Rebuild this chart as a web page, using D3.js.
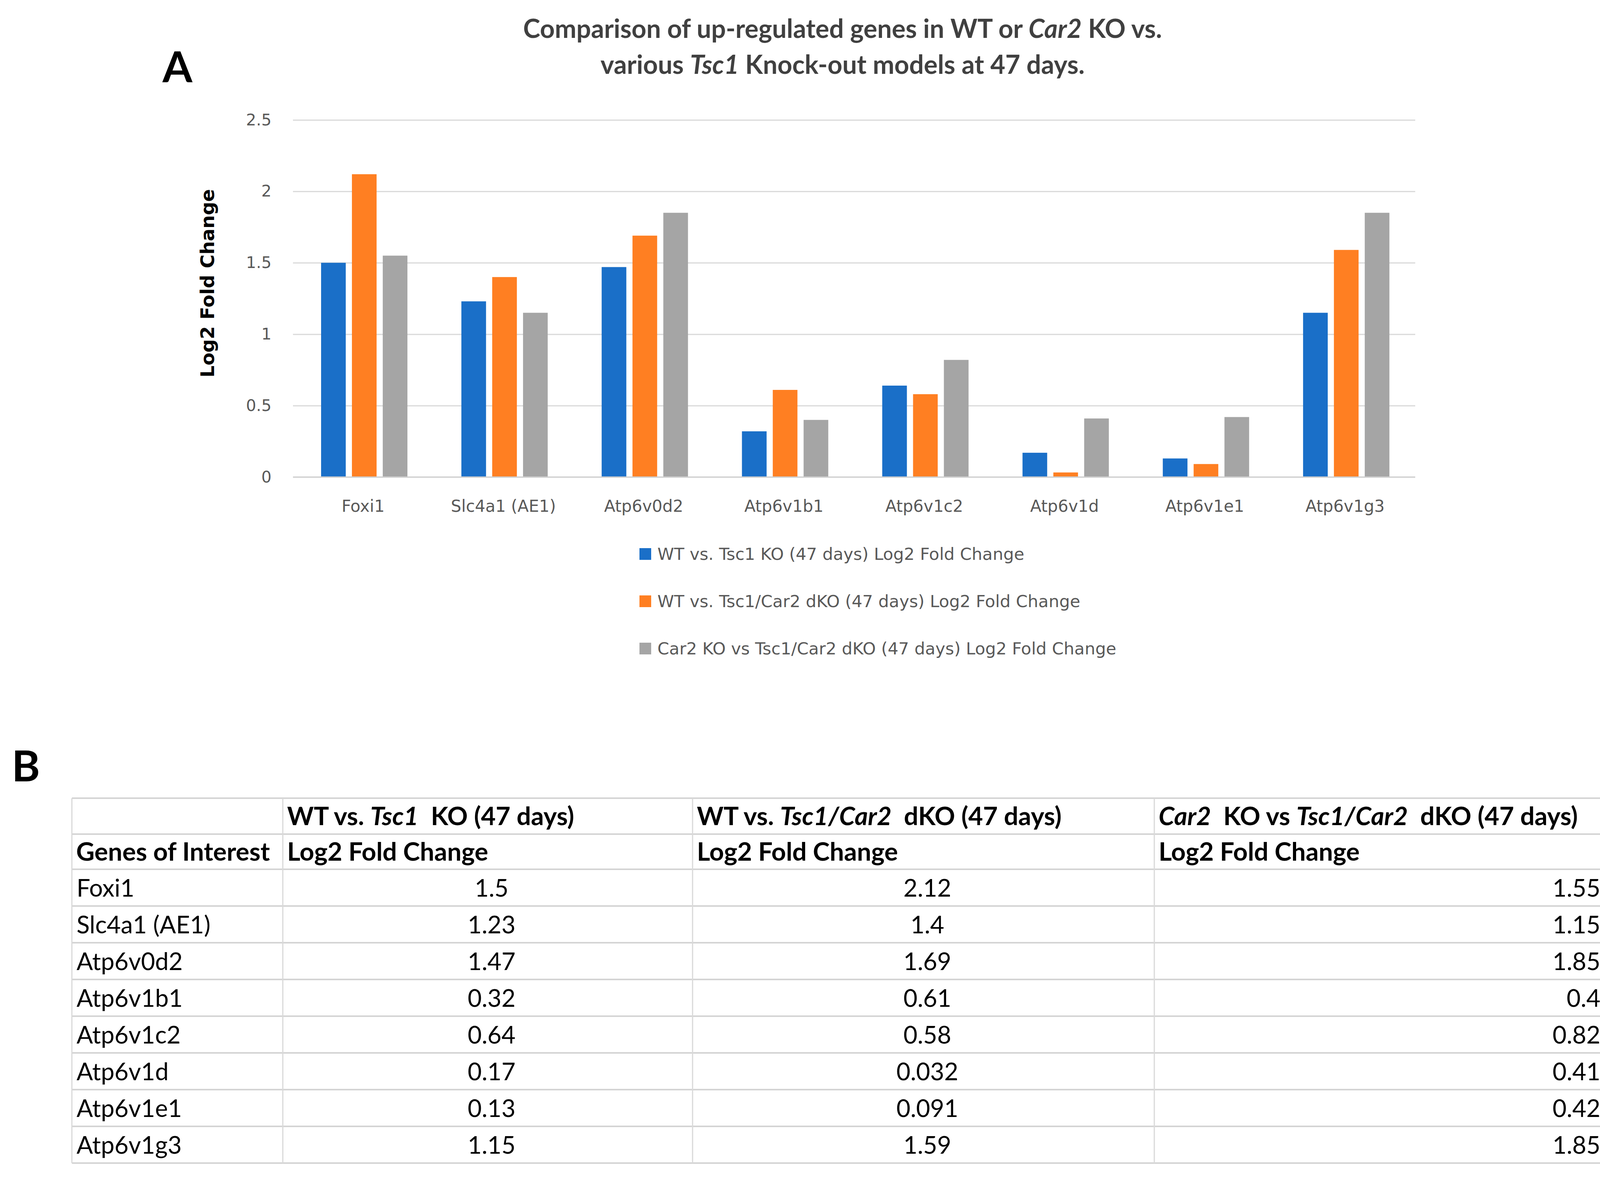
<!DOCTYPE html>
<html>
<head>
<meta charset="utf-8">
<script src="https://cdn.jsdelivr.net/npm/d3@7"></script>
<style>
  html, body { margin: 0; padding: 0; background: #fff; overflow: hidden; }
  svg { display: block; }
  text { white-space: pre; }
</style>
</head>
<body>
<div id="chart"></div>
<script>
// data
var genes = ["Foxi1", "Slc4a1 (AE1)", "Atp6v0d2", "Atp6v1b1", "Atp6v1c2", "Atp6v1d", "Atp6v1e1", "Atp6v1g3"];
var wtTsc1 = [1.5, 1.23, 1.47, 0.32, 0.64, 0.17, 0.13, 1.15];
var wtDko = [2.12, 1.4, 1.69, 0.61, 0.58, 0.032, 0.091, 1.59];
var car2Dko = [1.55, 1.15, 1.85, 0.4, 0.82, 0.41, 0.42, 1.85];
var seriesNames = [
  "WT vs. Tsc1 KO (47 days) Log2 Fold Change",
  "WT vs. Tsc1/Car2 dKO (47 days) Log2 Fold Change",
  "Car2 KO vs Tsc1/Car2 dKO (47 days) Log2 Fold Change"
];
var seriesColors = ["#1a6fc8", "#ff7f22", "#a5a5a5"];
var yTicks = [0, 0.5, 1, 1.5, 2, 2.5];

// table headers: [text, italic]
var headRow1 = [
  [],
  [["WT vs. ", 0], ["Tsc1", 1], ["  KO (47 days)", 0]],
  [["WT vs. ", 0], ["Tsc1/Car2", 1], ["  dKO (47 days)", 0]],
  [["Car2", 1], ["  KO vs ", 0], ["Tsc1/Car2", 1], ["  dKO (47 days)", 0]]
];
var headRow2 = ["Genes of Interest", "Log2 Fold Change", "Log2 Fold Change", "Log2 Fold Change"];

var W = 4206, H = 3028;
var svg = d3.select("#chart").append("svg")
  .attr("width", W).attr("height", H)
  .style("font-family", "Lato, sans-serif");

// ---------- panel A ----------
var plotL = 750, plotR = 3623, plotT = 307, plotB = 1221;

svg.append("text").attr("x", 416).attr("y", 210)
  .style("font-size", "110px").style("font-weight", "bold").text("A");

var title = svg.append("g").attr("fill", "#404040")
  .style("font-size", "66px").style("font-weight", "bold")
  .attr("text-anchor", "middle");
var t1 = title.append("text").attr("x", 2157).attr("y", 97);
t1.append("tspan").text("Comparison of up-regulated genes in WT or ");
t1.append("tspan").style("font-style", "italic").text("Car2");
t1.append("tspan").text(" KO vs.");
var t2 = title.append("text").attr("x", 2157).attr("y", 189);
t2.append("tspan").text("various ");
t2.append("tspan").style("font-style", "italic").text("Tsc1");
t2.append("tspan").text(" Knock-out models at 47 days.");

var x = d3.scaleBand().domain(genes).range([plotL, plotR]);
var xs = d3.scaleBand().domain([0, 1, 2]).range([72, 293]).paddingInner(0.2);
var y = d3.scaleLinear().domain([0, 2.5]).range([plotB, plotT]);

// gridlines
var grid = svg.append("g").attr("transform", "translate(" + plotL + ",0)")
  .call(d3.axisLeft(y).tickValues(yTicks).tickSize(-(plotR - plotL)).tickFormat(""));
grid.select(".domain").remove();
grid.selectAll("line").attr("stroke", "#d9d9d9").attr("stroke-width", 3);

var yAxis = svg.append("g").attr("transform", "translate(" + plotL + ",0)")
  .call(d3.axisLeft(y).tickValues(yTicks).tickSize(0).tickPadding(55).tickFormat(d3.format("")));
yAxis.select(".domain").remove();
yAxis.selectAll("text").attr("fill", "#595959")
  .style("font-family", "'DejaVu Sans', sans-serif").style("font-size", "41px");

svg.append("text")
  .attr("transform", "translate(548,725) rotate(-90)")
  .attr("text-anchor", "middle")
  .style("font-family", "'DejaVu Sans', sans-serif")
  .style("font-size", "48px").style("font-weight", "bold")
  .text("Log2 Fold Change");

// bars
var series = [wtTsc1, wtDko, car2Dko];
var groups = svg.append("g").selectAll("g")
  .data(genes).enter().append("g")
  .attr("transform", function(d) { return "translate(" + x(d) + ",0)"; });
groups.selectAll("rect")
  .data(function(d, i) { return series.map(function(s, k) { return { k: k, v: s[i] }; }); })
  .enter().append("rect")
  .attr("x", function(d) { return xs(d.k); })
  .attr("width", xs.bandwidth())
  .attr("y", function(d) { return y(d.v); })
  .attr("height", function(d) { return y(0) - y(d.v); })
  .attr("fill", function(d) { return seriesColors[d.k]; });

// baseline on top of bars
svg.append("line").attr("x1", plotL).attr("x2", plotR)
  .attr("y1", y(0)).attr("y2", y(0))
  .attr("stroke", "#d0d0d0").attr("stroke-width", 3);

var xAxis = svg.append("g").attr("transform", "translate(0," + plotB + ")")
  .call(d3.axisBottom(x).tickSize(0).tickPadding(59));
xAxis.select(".domain").remove();
xAxis.selectAll("text").attr("fill", "#595959")
  .style("font-family", "'DejaVu Sans', sans-serif").style("font-size", "42px");

// legend
var legendY = [1418, 1539, 1660];
var legend = svg.append("g").selectAll("g")
  .data(seriesNames).enter().append("g")
  .attr("transform", function(d, i) { return "translate(1637," + legendY[i] + ")"; });
legend.append("rect").attr("x", 0).attr("y", -15).attr("width", 30).attr("height", 30)
  .attr("fill", function(d, i) { return seriesColors[i]; });
legend.append("text").attr("x", 46).attr("y", 15)
  .attr("fill", "#595959")
  .style("font-family", "'DejaVu Sans', sans-serif").style("font-size", "43px")
  .text(function(d) { return d; });

// ---------- panel B ----------
svg.append("text").attr("x", 30).attr("y", 2000)
  .style("font-size", "110px").style("font-weight", "bold").text("B");

var colX = [184, 724, 1773, 2955, 4112];
var rowY = [2043, 2135, 2225];
genes.forEach(function(g, i) { rowY.push(2225 + (i + 1) * 94); });

var table = svg.append("g");
table.selectAll(".hline").data(rowY).enter().append("line")
  .attr("x1", colX[0]).attr("x2", colX[4])
  .attr("y1", function(d) { return d; }).attr("y2", function(d) { return d; })
  .attr("stroke", "#d4d4d4").attr("stroke-width", 4);
table.selectAll(".vline").data(colX).enter().append("line")
  .attr("x1", function(d) { return d; }).attr("x2", function(d) { return d; })
  .attr("y1", rowY[0]).attr("y2", rowY[rowY.length - 1])
  .attr("stroke", "#d9d9d9").attr("stroke-width", 3);

// header rows
headRow1.forEach(function(parts, c) {
  if (!parts.length) return;
  var t = table.append("text").attr("x", colX[c] + 11).attr("y", rowY[0] + 69)
    .style("font-size", "65px").style("font-weight", "bold");
  parts.forEach(function(p) {
    t.append("tspan").style("font-style", p[1] ? "italic" : "normal").text(p[0]);
  });
});
table.selectAll(".h2").data(headRow2).enter().append("text")
  .attr("x", function(d, c) { return colX[c] + 11; })
  .attr("y", rowY[1] + 68)
  .style("font-size", "65px").style("font-weight", "bold")
  .text(function(d) { return d; });

// body rows
var rows = genes.map(function(g, i) { return [g, wtTsc1[i], wtDko[i], car2Dko[i]]; });
var tr = table.selectAll(".row").data(rows).enter().append("g")
  .attr("transform", function(d, i) { return "translate(0," + (rowY[i + 2] + 70) + ")"; });
tr.selectAll("text").data(function(d) { return d; }).enter().append("text")
  .attr("x", function(d, c) {
    if (c === 0) return colX[0] + 12;
    if (c === 3) return colX[4] - 15;
    return (colX[c] + colX[c + 1]) / 2 + 10;
  })
  .attr("text-anchor", function(d, c) { return c === 0 ? "start" : (c === 3 ? "end" : "middle"); })
  .style("font-size", "62px")
  .text(function(d) { return String(d); });
</script>
</body>
</html>
